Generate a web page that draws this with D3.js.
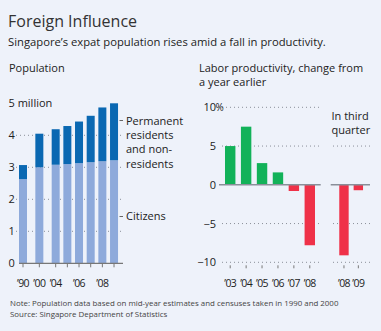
<!DOCTYPE html>
<html>
<head>
<meta charset="utf-8">
<script src="https://cdn.jsdelivr.net/npm/d3@7"></script>
<style>
  html, body { margin: 0; padding: 0; background: #eef2fa; }
  svg { display: block; font-family: "Open Sans", "Noto Sans", sans-serif; }
  .grid { stroke: #8a8f99; stroke-width: 1; stroke-dasharray: 1 3; }
  .zero { stroke: #8a8f99; stroke-width: 1.5; }
  .xlab { font-size: 10.5px; letter-spacing: -0.6px; fill: #222; }
</style>
</head>
<body>
<svg width="381" height="331"></svg>
<script>
// population, millions
var popYears = ["1990", "2000", "2004", "2005", "2006", "2007", "2008", "2009"];
var popCitizens = [2.63, 3.00, 3.08, 3.10, 3.13, 3.16, 3.19, 3.22];
var popTotal = [3.07, 4.05, 4.19, 4.29, 4.43, 4.61, 4.87, 5.00];
var popTickYears = ["1990", "2000", "2004", "2006", "2008"];
var popTickLabels = ["’90", "’00", "’04", "’06", "’08"];

// productivity, % change
var prodYears = ["’03", "’04", "’05", "’06", "’07", "’08"];
var prodValues = [5.0, 7.5, 2.8, 1.6, -0.8, -7.8];
var q3Years = ["’08", "’09"];
var q3Values = [-9.1, -0.7];

var svg = d3.select("svg");

svg.append("text").attr("x", 8).attr("y", 27)
  .style("font-size", "16px").attr("fill", "#333")
  .text("Foreign Influence");
svg.append("text").attr("x", 8).attr("y", 46)
  .style("font-size", "11.25px").attr("fill", "#222")
  .text("Singapore’s expat population rises amid a fall in productivity.");

// ---- left: population ----
var y1 = d3.scaleLinear().domain([0, 5]).range([263.3, 103.3]);
var step = 11.67, extra = 4.67;
function px(i) { return 23 + i * step + Math.min(i, 2) * extra; }
var barW = 8;

var left = svg.append("g");
left.append("text").attr("x", 9).attr("y", 72)
  .style("font-size", "11px").attr("fill", "#222").text("Population");

left.selectAll(".grid").data([1, 2, 3, 4]).enter().append("line")
  .attr("class", "grid")
  .attr("x1", 16).attr("x2", 123)
  .attr("y1", function(d) { return y1(d); })
  .attr("y2", function(d) { return y1(d); });

left.selectAll(".ylab").data([0, 1, 2, 3, 4, 5]).enter().append("text")
  .attr("x", 8.5).attr("y", function(d) { return y1(d) + 4; })
  .style("font-size", "11px").attr("fill", "#222")
  .text(function(d) { return d === 5 ? "5 million" : d; });

left.selectAll(".cit").data(popCitizens).enter().append("rect")
  .attr("x", function(d, i) { return px(i) - barW / 2; })
  .attr("width", barW)
  .attr("y", function(d) { return y1(d); })
  .attr("height", function(d) { return y1(0) - y1(d); })
  .attr("fill", "#8eaadb");

left.selectAll(".tot").data(popTotal).enter().append("rect")
  .attr("x", function(d, i) { return px(i) - barW / 2; })
  .attr("width", barW)
  .attr("y", function(d) { return y1(d); })
  .attr("height", function(d, i) { return y1(popCitizens[i]) - y1(d); })
  .attr("fill", "#0a68b2");

left.append("line").attr("x1", 19).attr("x2", 123)
  .attr("y1", y1(0)).attr("y2", y1(0))
  .attr("stroke", "#777").attr("stroke-width", 1.2);

left.selectAll(".xt").data(popYears).enter().append("line")
  .attr("x1", function(d, i) { return px(i); })
  .attr("x2", function(d, i) { return px(i); })
  .attr("y1", y1(0)).attr("y2", y1(0) + 4)
  .attr("stroke", "#777");

left.selectAll(".xl").data(popTickYears).enter().append("text")
  .attr("class", "xlab")
  .attr("x", function(d) { return px(popYears.indexOf(d)); })
  .attr("y", 287).attr("text-anchor", "middle")
  .text(function(d, i) { return popTickLabels[i]; });

// legend
var legX = 126;
[["Permanent", 124.5], ["residents", 139], ["and non-", 153], ["residents", 167.5], ["Citizens", 220]]
  .forEach(function(l) {
    left.append("text").attr("x", legX).attr("y", l[1])
      .style("font-size", "11px").attr("fill", "#222").text(l[0]);
  });
[120.5, 216.5].forEach(function(yy) {
  left.append("line").attr("x1", 119.5).attr("x2", 123)
    .attr("y1", yy).attr("y2", yy).attr("stroke", "#666");
});

// ---- right: productivity ----
var y2 = d3.scaleLinear().domain([-10, 10]).range([262.3, 107.3]);
var xA = d3.scaleBand().domain(prodYears).range([219.5, 320.5]).padding(0.346);
var xQ = d3.scaleBand().domain(q3Years).range([334.3, 368]).padding(0.346);

var right = svg.append("g");
right.append("text").attr("x", 199).attr("y", 72)
  .style("font-size", "11px").attr("fill", "#222").text("Labor productivity, change from");
right.append("text").attr("x", 199).attr("y", 86)
  .style("font-size", "11px").attr("fill", "#222").text("a year earlier");

right.append("text").attr("x", 331.5).attr("y", 119.5)
  .style("font-size", "11px").attr("fill", "#222").text("In third");
right.append("text").attr("x", 331.5).attr("y", 134)
  .style("font-size", "11px").attr("fill", "#222").text("quarter");

var panels = [[222, 319], [333, 370]];
[10, 5, -5, -10].forEach(function(v) {
  panels.forEach(function(p, k) {
    if (v === 10 && k === 1) return;
    right.append("line").attr("class", "grid")
      .attr("x1", p[0]).attr("x2", p[1])
      .attr("y1", y2(v)).attr("y2", y2(v));
  });
});

right.selectAll(".ylab").data([10, 5, 0, -5, -10]).enter().append("text")
  .attr("x", 216).attr("y", function(d) { return y2(d) + 4; })
  .attr("text-anchor", "end")
  .style("font-size", "11px").attr("fill", "#222")
  .text(function(d) { return d < 0 ? "\u2212" + (-d) : d; });
right.append("text").attr("x", 215.5).attr("y", y2(10) + 4)
  .style("font-size", "10px").attr("fill", "#222").text("%");

function color(v) { return v >= 0 ? "#12b259" : "#ef3148"; }

right.selectAll(".pa").data(prodValues).enter().append("rect")
  .attr("x", function(d, i) { return xA(prodYears[i]); })
  .attr("width", xA.bandwidth())
  .attr("y", function(d) { return y2(Math.max(0, d)); })
  .attr("height", function(d) { return Math.abs(y2(d) - y2(0)); })
  .attr("fill", color);

right.selectAll(".pq").data(q3Values).enter().append("rect")
  .attr("x", function(d, i) { return xQ(q3Years[i]); })
  .attr("width", xQ.bandwidth())
  .attr("y", function(d) { return y2(Math.max(0, d)); })
  .attr("height", function(d) { return Math.abs(y2(d) - y2(0)); })
  .attr("fill", color);

[[219, 320.7], [330.7, 370]].forEach(function(p) {
  right.append("line").attr("class", "zero")
    .attr("x1", p[0]).attr("x2", p[1])
    .attr("y1", y2(0)).attr("y2", y2(0));
});

function xTicks(scale, names) {
  names.forEach(function(n) {
    var cx = scale(n) + scale.bandwidth() / 2;
    right.append("line").attr("x1", cx).attr("x2", cx)
      .attr("y1", y2(-10) + 3).attr("y2", y2(-10) + 6)
      .attr("stroke", "#777");
    right.append("text").attr("class", "xlab").attr("x", cx).attr("y", 287)
      .attr("text-anchor", "middle").text(n);
  });
}
xTicks(xA, prodYears);
xTicks(xQ, q3Years);

// notes
svg.append("text").attr("x", 10).attr("y", 306)
  .style("font-size", "7.9px").attr("fill", "#444")
  .text("Note: Population data based on mid-year estimates and censuses taken in 1990 and 2000");
svg.append("text").attr("x", 10).attr("y", 316.5)
  .style("font-size", "7.9px").attr("fill", "#444")
  .text("Source: Singapore Department of Statistics");
</script>
</body>
</html>
